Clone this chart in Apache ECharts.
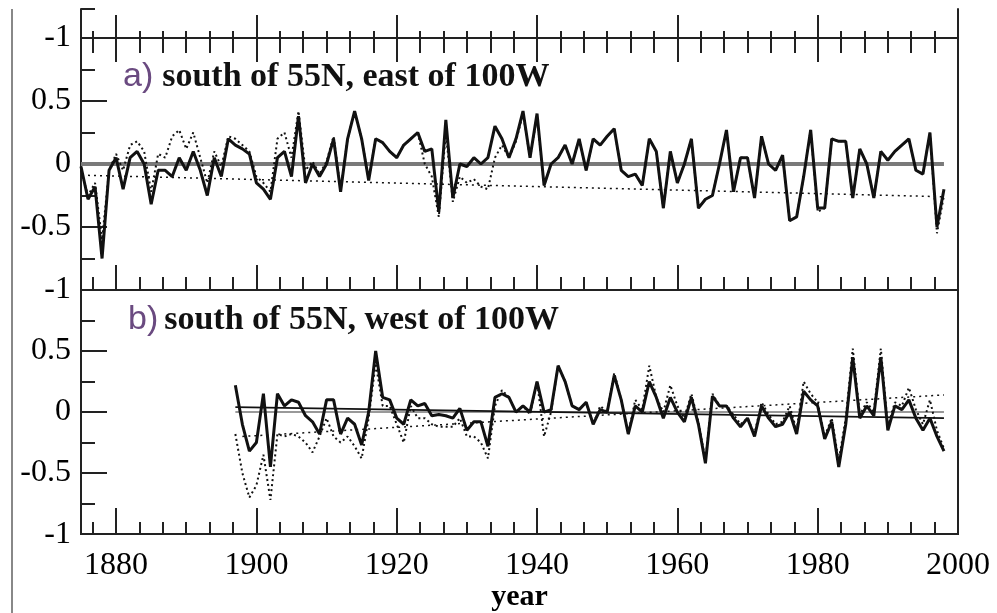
<!DOCTYPE html>
<html>
<head>
<meta charset="utf-8">
<script src="https://cdn.jsdelivr.net/npm/echarts@6/dist/echarts.min.js"></script>
<style>
    html, body { margin: 0; padding: 0; background: #fff; }
    #chart { width: 997px; height: 613px; }
</style>
</head>
<body>
<div id="chart"></div>
<script>
// 数据 - a) east of 100W (1875-1998)
const startA = 1875
const solidA = [
    -0.02, -0.28, -0.18, -0.75, -0.05,
    0.05, -0.2, 0.05, 0.1, 0.0, -0.32, -0.05, -0.05, -0.1, 0.05,
    -0.05, 0.1, -0.05, -0.25, 0.05, -0.1, 0.2, 0.15, 0.12, 0.08,
    -0.15, -0.2, -0.28, 0.05, 0.1, -0.1, 0.38, -0.15, 0.0, -0.1,
    0.0, 0.2, -0.22, 0.2, 0.42, 0.2, -0.13, 0.2, 0.17, 0.1,
    0.05, 0.15, 0.2, 0.25, 0.1, 0.12, -0.38, 0.35, -0.27, 0.0,
    -0.02, 0.05, 0.0, 0.05, 0.3, 0.2, 0.05, 0.2, 0.42, 0.05,
    0.4, -0.17, 0.0, 0.05, 0.15, 0.0, 0.2, -0.05, 0.2, 0.15,
    0.22, 0.28, -0.05, -0.1, -0.08, -0.17, 0.2, 0.1, -0.35, 0.1,
    -0.15, 0.0, 0.2, -0.35, -0.28, -0.25, 0.0, 0.27, -0.22, 0.05,
    0.05, -0.27, 0.22, 0.0, -0.05, 0.07, -0.45, -0.42, -0.1, 0.27,
    -0.35, -0.35, 0.2, 0.18, 0.18, -0.27, 0.12, 0.0, -0.27, 0.1,
    0.03, 0.1, 0.15, 0.2, -0.05, -0.08, 0.25, -0.5, -0.2
]
const dottedA = [
    -0.05, -0.25, -0.15, -0.6, -0.05,
    0.08, -0.05, 0.15, 0.18, 0.1, -0.22, 0.08, 0.05, 0.22, 0.27,
    0.12, 0.25, 0.05, -0.15, 0.1, -0.02, 0.22, 0.2, 0.15, 0.1,
    -0.1, -0.15, -0.22, 0.2, 0.25, 0.05, 0.42, -0.05, 0.02, -0.08,
    0.02, 0.22, -0.2, 0.2, 0.42, 0.2, -0.12, 0.2, 0.17, 0.1,
    0.05, 0.15, 0.2, 0.25, 0.0, -0.1, -0.42, 0.25, -0.3, -0.1,
    -0.15, -0.12, -0.18, -0.2, 0.05, 0.15, 0.05, 0.18, 0.4, 0.05,
    0.38, -0.17, 0.0, 0.05, 0.15, 0.0, 0.2, -0.05, 0.2, 0.15,
    0.22, 0.28, -0.05, -0.1, -0.08, -0.17, 0.2, 0.1, -0.35, 0.1,
    -0.15, 0.0, 0.2, -0.35, -0.28, -0.25, 0.0, 0.27, -0.22, 0.05,
    0.05, -0.27, 0.22, 0.0, -0.05, 0.07, -0.45, -0.42, -0.1, 0.27,
    -0.38, -0.35, 0.2, 0.18, 0.18, -0.27, 0.12, 0.0, -0.27, 0.1,
    0.03, 0.1, 0.15, 0.2, -0.05, -0.08, 0.25, -0.55, -0.25
]
// 趋势线 a)
const zeroA = [[1875, 0], [1998, 0]]
const trendDotA = [[1876, -0.09], [1998, -0.26]]

// 数据 - b) west of 100W (1897-1998)
const startB = 1897
const solidB = [
    0.22, -0.1, -0.32,
    -0.25, 0.15, -0.45, 0.15, 0.05, 0.1, 0.08, -0.03, -0.08, -0.18,
    0.1, 0.1, -0.18, -0.05, -0.1, -0.27, 0.0, 0.5, 0.12, 0.1,
    -0.05, -0.1, 0.1, 0.05, 0.07, -0.03, -0.02, -0.03, -0.05, 0.03,
    -0.15, -0.08, -0.08, -0.28, 0.12, 0.15, 0.12, 0.0, 0.05, 0.0,
    0.25, 0.0, 0.02, 0.38, 0.25, 0.05, 0.02, 0.08, -0.1, 0.02,
    0.0, 0.3, 0.1, -0.18, 0.05, 0.0, 0.25, 0.12, -0.05, 0.12,
    0.0, -0.08, 0.12, -0.1, -0.42, 0.13, 0.05, 0.05, -0.05, -0.12,
    -0.05, -0.2, 0.05, -0.05, -0.12, -0.1, 0.0, -0.18, 0.17, 0.1,
    0.05, -0.22, -0.08, -0.45, -0.1, 0.45, -0.05, 0.05, -0.03, 0.45,
    -0.15, 0.05, 0.02, 0.1, -0.05, -0.15, -0.05, -0.2, -0.32
]
const dottedB = [
    -0.18, -0.5, -0.7,
    -0.6, -0.35, -0.72, -0.18, -0.2, -0.18, -0.2, -0.25, -0.33, -0.2,
    -0.05, -0.2, -0.25, -0.2, -0.28, -0.38, -0.05, 0.4, 0.05, 0.05,
    -0.1, -0.25, 0.05, -0.05, -0.05, -0.1, -0.12, -0.12, -0.12, -0.05,
    -0.2, -0.2, -0.25, -0.38, 0.05, 0.18, 0.12, 0.0, 0.05, -0.02,
    0.25, -0.2, 0.0, 0.38, 0.25, 0.05, 0.02, 0.08, -0.1, 0.05,
    0.0, 0.32, 0.1, -0.18, 0.1, 0.02, 0.38, 0.12, 0.0, 0.22,
    0.05, -0.05, 0.15, -0.08, -0.4, 0.15, 0.05, 0.05, -0.02, -0.1,
    -0.05, -0.18, 0.08, -0.02, -0.1, -0.08, 0.05, -0.15, 0.25, 0.15,
    0.08, -0.2, -0.05, -0.4, -0.05, 0.52, -0.02, 0.08, 0.0, 0.52,
    -0.12, 0.08, 0.05, 0.2, 0.02, -0.1, 0.1, -0.15, -0.3
]
// 趋势线 b)
const zeroB = [[1897, 0], [1998, 0]]
const trendSolidB = [[1897, 0.04], [1998, -0.05]]
const trendDotB = [[1898, -0.2], [1998, 0.14]]

// 刻度
const xLabels = [1880, 1900, 1920, 1940, 1960, 1980, 2000]
const xMajor = [1880, 1900, 1920, 1940, 1960, 1980]
const yTopLabels = [-1]
const xMinor = []
for (let k = 0; k < 37; k++) {
    xMinor.push(1876 + 2 / 3 + k * 10 / 3)
}

(function () {
    const chart = echarts.init(document.getElementById("chart"))
    const ink = '#222'
    const serif = 'Liberation Serif'

    function pairs(start, arr) {
        return arr.map((v, i) => [start + i, v])
    }

    // x 轴: 只画刻度
    function xTicks(gridIndex, position, ticks, length, extra) {
        return Object.assign({
            gridIndex: gridIndex,
            type: 'value',
            min: 1875,
            max: 2000,
            position: position,
            axisLine: { show: false, onZero: false },
            axisTick: {
                show: true,
                inside: true,
                length: length,
                customValues: ticks,
                lineStyle: { color: ink, width: 2 }
            },
            axisLabel: { show: false },
            splitLine: { show: false }
        }, extra || {})
    }

    function yPanel(gridIndex) {
        return {
            gridIndex: gridIndex,
            type: 'value',
            min: -1,
            max: 1,
            interval: 0.5,
            axisLine: { show: true, onZero: false, lineStyle: { color: ink, width: 2 } },
            axisTick: { show: true, inside: true, length: 26, lineStyle: { color: ink, width: 2 } },
            minorTick: { show: true, splitNumber: 2, length: 14, lineStyle: { color: ink, width: 2 } },
            axisLabel: {
                showMaxLabel: false,
                margin: 10,
                color: '#000',
                fontFamily: serif,
                fontSize: 32
            },
            splitLine: { show: false }
        }
    }

    function line(xi, yi, data, style) {
        return {
            type: 'line',
            xAxisIndex: xi,
            yAxisIndex: yi,
            data: data,
            symbol: 'none',
            silent: true,
            lineStyle: style
        }
    }

    const option = {
        animation: false,
        backgroundColor: '#fff',
        grid: [
            { left: 81, right: 39, top: 9, height: 29 },
            { left: 81, right: 39, top: 38, height: 252, show: true, borderColor: ink, borderWidth: 2 },
            { left: 81, right: 39, top: 290, height: 249, show: true, borderColor: ink, borderWidth: 2 }
        ],
        xAxis: [
            // 上方被裁切的面板
            xTicks(0, 'bottom', xMajor, 23, { axisLine: { show: true, onZero: false, lineStyle: { color: ink, width: 2 } } }),
            xTicks(0, 'bottom', xMinor, 7),
            // a) 顶部
            xTicks(1, 'top', xMajor, 24),
            xTicks(1, 'top', xMinor, 15),
            // a) 底部
            xTicks(1, 'bottom', xMajor, 25),
            xTicks(1, 'bottom', xMinor, 13),
            // b) 底部 + 年份标签
            xTicks(2, 'bottom', xMajor, 26, {
                name: 'year',
                nameLocation: 'middle',
                nameGap: 47,
                nameTextStyle: { color: '#000', fontFamily: serif, fontWeight: 'bold', fontSize: 30 },
                axisLabel: {
                    show: true,
                    customValues: xLabels,
                    formatter: (v) => String(v),
                    margin: 15,
                    color: '#000',
                    fontFamily: serif,
                    fontSize: 32
                }
            }),
            xTicks(2, 'bottom', xMinor, 12)
        ],
        yAxis: [
            {
                gridIndex: 0,
                type: 'value',
                min: -1,
                max: -0.75,
                axisLine: { show: true, onZero: false, lineStyle: { color: ink, width: 2 } },
                axisTick: { show: true, inside: true, length: 14, customValues: [-0.75], lineStyle: { color: ink, width: 2 } },
                axisLabel: {
                    show: true,
                    customValues: yTopLabels,
                    formatter: (v) => String(v),
                    margin: 10,
                    color: '#000',
                    fontFamily: serif,
                    fontSize: 32
                },
                splitLine: { show: false }
            },
            yPanel(1),
            yPanel(2),
            {
                gridIndex: 0,
                type: 'value',
                position: 'right',
                min: -1,
                max: -0.75,
                axisLine: { show: true, onZero: false, lineStyle: { color: ink, width: 2 } },
                axisTick: { show: false },
                axisLabel: { show: false },
                splitLine: { show: false }
            }
        ],
        series: [
            line(4, 1, zeroA, { color: '#7a7a7a', width: 4 }),
            line(4, 1, trendDotA, { color: '#111', width: 1.5, type: [2, 4] }),
            line(4, 1, pairs(startA, dottedA), { color: '#111', width: 2, type: [2, 3] }),
            line(4, 1, pairs(startA, solidA), { color: '#111', width: 3 }),
            line(6, 2, zeroB, { color: '#999', width: 2 }),
            line(6, 2, trendSolidB, { color: '#111', width: 1.8 }),
            line(6, 2, trendDotB, { color: '#111', width: 1.5, type: [2, 4] }),
            line(6, 2, pairs(startB, dottedB), { color: '#111', width: 2, type: [2, 3] }),
            line(6, 2, pairs(startB, solidB), { color: '#111', width: 3 })
        ],
        graphic: [
            {
                type: 'line',
                shape: { x1: 12, y1: 9, x2: 12, y2: 613 },
                style: { stroke: '#888', lineWidth: 2 }
            },
            {
                type: 'text',
                x: 123,
                y: 77,
                style: {
                    text: '{p|a)}{t|south of 55N, east of 100W}',
                    verticalAlign: 'middle',
                    rich: {
                        p: { fontFamily: 'Liberation Sans', fontSize: 34, fill: '#6a4a80', padding: [0, 9, 0, 0] },
                        t: { fontFamily: serif, fontWeight: 'bold', fontSize: 34, fill: '#111' }
                    }
                }
            },
            {
                type: 'text',
                x: 128,
                y: 320,
                style: {
                    text: '{p|b)}{t|south of 55N, west of 100W}',
                    verticalAlign: 'middle',
                    rich: {
                        p: { fontFamily: 'Liberation Sans', fontSize: 34, fill: '#6a4a80', padding: [0, 6, 0, 0] },
                        t: { fontFamily: serif, fontWeight: 'bold', fontSize: 34, fill: '#111' }
                    }
                }
            }
        ]
    }
    chart.setOption(option)
    window.addEventListener("resize", () => {
        chart.resize()
    })
})()
</script>
</body>
</html>
